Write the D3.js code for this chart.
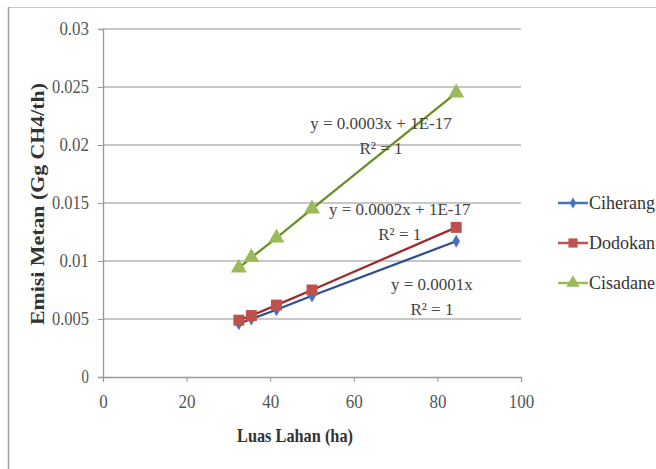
<!DOCTYPE html>
<html><head><meta charset="utf-8">
<script src="https://cdn.jsdelivr.net/npm/d3@7"></script>
<style>body{margin:0;background:#fff}svg{display:block}svg text{font-family:"Liberation Serif","Times New Roman",serif !important}</style>
</head><body><svg id="c" width="656" height="469"></svg>
<script>
const xValues = [32.5, 35.5, 41.5, 50, 84.5];
const ciherang = [0.0046, 0.0050, 0.0058, 0.0070, 0.0117];
const dodokan = [0.0049, 0.0053, 0.0062, 0.0075, 0.0129];
const cisadane = [0.0094, 0.0103, 0.0120, 0.0145, 0.0245];
const seriesNames = ["Ciherang", "Dodokan", "Cisadane"];
const xTicks = [0, 20, 40, 60, 80, 100];
const yTicks = [0, 0.005, 0.01, 0.015, 0.02, 0.025, 0.03];
const equations = [
  {lines:["y = 0.0001x","R² = 1"], at:[78.7, 0.0075]},
  {lines:["y = 0.0002x + 1E-17","R² = 1"], at:[71, 0.0140]},
  {lines:["y = 0.0003x + 1E-17","R² = 1"], at:[66.5, 0.0214]}
];

const svg = d3.select("#c");
const x = d3.scaleLinear().domain([0,100]).range([103,521]);
const y = d3.scaleLinear().domain([0,0.03]).range([377,29]);
const serif = "font-family:'Liberation Serif','Times New Roman',serif";

// outer frame
svg.append("line").attr("x1",8).attr("x2",656).attr("y1",7.5).attr("y2",7.5).attr("stroke","#c8c8c8");
svg.append("line").attr("x1",8.5).attr("x2",8.5).attr("y1",7).attr("y2",469).attr("stroke","#a0a0a0").attr("stroke-width",1.5);

// gridlines
svg.append("g").selectAll("line").data(yTicks.slice(1)).join("line")
  .attr("x1",x(0)).attr("x2",x(100)).attr("y1",d=>y(d)).attr("y2",d=>y(d))
  .attr("stroke","#b4b4b4").attr("stroke-width",1.3);

const ya = svg.append("g").attr("transform",`translate(${x(0)},0)`)
  .call(d3.axisLeft(y).tickValues(yTicks).tickSize(5).tickPadding(9).tickFormat(d=>d===0?"0":String(+d.toFixed(3))));
const xa = svg.append("g").attr("transform",`translate(0,${y(0)})`)
  .call(d3.axisBottom(x).tickValues(xTicks).tickSize(5).tickPadding(13));
[ya,xa].forEach(a=>{a.attr("font-family","Liberation Serif");
  a.select(".domain").attr("stroke","#999").attr("stroke-width",1.3);
  a.selectAll(".tick line").attr("stroke","#999");});
ya.selectAll(".tick text").attr("fill","#555").attr("style",serif+";font-size:18px")
  .attr("textLength",function(){return this.textContent.length*7.4;}).attr("lengthAdjust","spacingAndGlyphs");
xa.selectAll(".tick text").attr("fill","#555").attr("style",serif+";font-size:19px")
  .attr("textLength",function(){return this.textContent.length*8.5;}).attr("lengthAdjust","spacingAndGlyphs");

svg.append("text").attr("x",295).attr("y",442).attr("text-anchor","middle").attr("style",serif)
  .attr("font-size",19).attr("font-weight","bold").attr("fill","#333").attr("textLength",116).attr("lengthAdjust","spacingAndGlyphs").text("Luas Lahan (ha)");
svg.append("text").attr("transform","translate(44,204) rotate(-90)").attr("text-anchor","middle").attr("style",serif)
  .attr("font-size",18).attr("font-weight","bold").attr("fill","#333").attr("textLength",242).attr("lengthAdjust","spacingAndGlyphs").text("Emisi Metan (Gg CH4/th)");

const colors = {Ciherang:"#4572c4", Dodokan:"#c0504d", Cisadane:"#9bbb59"};
const lineCols = {Ciherang:"#2f4f8f", Dodokan:"#a02a2a", Cisadane:"#6b8e23"};
const data = {Ciherang:ciherang, Dodokan:dodokan, Cisadane:cisadane};
const line = d3.line().x(d=>x(d[0])).y(d=>y(d[1]));
const sym = {Ciherang:d3.symbolDiamond, Dodokan:d3.symbolSquare, Cisadane:d3.symbolTriangle};
const symSize = {Ciherang:50, Dodokan:120, Cisadane:110};

seriesNames.forEach(n=>{
  const pts = xValues.map((v,i)=>[v,data[n][i]]);
  svg.append("path").attr("d",line(pts)).attr("fill","none").attr("stroke",lineCols[n]).attr("stroke-width",2.3);
});
seriesNames.forEach(n=>{
  const pts = xValues.map((v,i)=>[v,data[n][i]]);
  svg.append("g").selectAll("path").data(pts).join("path")
    .attr("d",d3.symbol().type(sym[n]).size(symSize[n]))
    .attr("transform",d=>`translate(${x(d[0])},${y(d[1])})`)
    .attr("fill",colors[n]);
});

equations.forEach(e=>{
  const t = svg.append("text").attr("text-anchor","middle").attr("font-size",17).attr("fill","#444").attr("style",serif);
  e.lines.forEach((l,i)=>t.append("tspan").attr("x",x(e.at[0])).attr("dy",i?25:0).attr("y",i?null:y(e.at[1])).text(l));
});

// legend
const lg = svg.append("g");
seriesNames.forEach((n,i)=>{
  const yy = 203 + i*40;
  lg.append("line").attr("x1",558).attr("x2",588).attr("y1",yy).attr("y2",yy).attr("stroke",colors[n]).attr("stroke-width",2.5);
  lg.append("path").attr("d",d3.symbol().type(sym[n]).size(symSize[n]*0.7)).attr("transform",`translate(573,${yy})`).attr("fill",colors[n]);
  lg.append("text").attr("x",589).attr("y",yy+6).attr("font-size",18).attr("fill","#333").attr("style",serif)
    .attr("textLength",66).attr("lengthAdjust","spacingAndGlyphs").text(n);
});
</script></body></html>
